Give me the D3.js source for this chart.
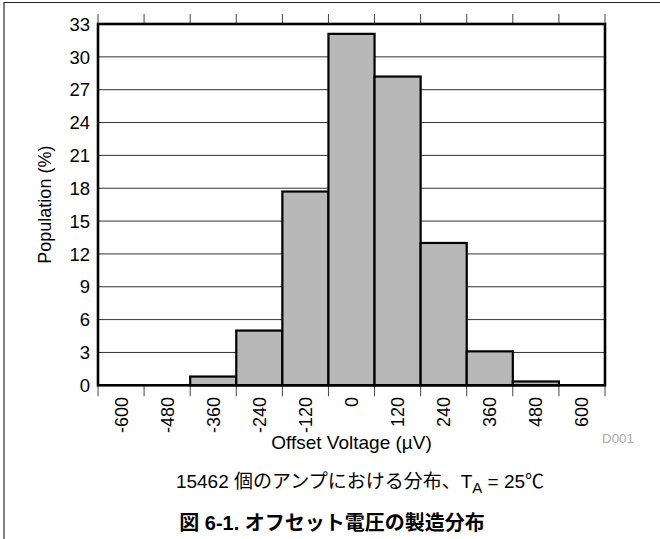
<!DOCTYPE html>
<html><head><meta charset="utf-8">
<script src="https://cdn.jsdelivr.net/npm/d3@7"></script>
<style>body{margin:0;background:#fff}svg{display:block}</style>
</head><body>
<svg id="c" width="660" height="539"></svg>
<script>
const categories = ["-600","-480","-360","-240","-120","0","120","240","360","480","600"];
const values = [0, 0.05, 0.8, 5, 17.7, 32.1, 28.2, 13, 3.1, 0.35, 0];
const yTicks = [0,3,6,9,12,15,18,21,24,27,30,33];
const xTitle = "Offset Voltage (µV)";
const yTitle = "Population (%)";
const caption1 = "15462 個のアンプにおける分布、T";
const caption2 = "図 6-1. オフセット電圧の製造分布";

const svg = d3.select("#c");
const L=98, R=605, T=24, B=385.3;
const x = d3.scaleBand().domain(categories).range([L,R]).padding(0);
const y = d3.scaleLinear().domain([0,33]).range([B,T]);
const font = "'Liberation Sans', Arial, sans-serif";

// outer frame lines
svg.append("line").attr("x1",4).attr("x2",4).attr("y1",2).attr("y2",539).attr("stroke","#555").attr("stroke-width",1.5);
svg.append("line").attr("x1",4).attr("x2",660).attr("y1",2.5).attr("y2",2.5).attr("stroke","#222").attr("stroke-width",1.2);

// gridlines
svg.append("g").selectAll("line").data(yTicks.filter(d=>d>0&&d<33)).join("line")
 .attr("x1",L).attr("x2",R).attr("y1",d=>y(d)).attr("y2",d=>y(d))
 .attr("stroke","#333").attr("stroke-width",1);

// bars
svg.append("g").selectAll("rect").data(categories.map((c,i)=>({c,v:values[i]})).filter(d=>d.v>0)).join("rect")
 .attr("x",d=>x(d.c)).attr("width",x.bandwidth())
 .attr("y",d=>y(d.v)).attr("height",d=>B-y(d.v))
 .attr("fill","#b8b8b8").attr("stroke",d=>d.v<0.1?"#999":"#000").attr("stroke-width",d=>d.v<0.1?1:2.2);

// tick marks at band boundaries
const bounds = categories.map(c=>x(c)).concat([R]);
svg.append("g").selectAll("line").data(bounds).join("line")
 .attr("x1",d=>d).attr("x2",d=>d).attr("y1",B).attr("y2",B+11).attr("stroke","#444").attr("stroke-width",1);
svg.append("g").selectAll("line").data(bounds).join("line")
 .attr("x1",d=>d).attr("x2",d=>d).attr("y1",T).attr("y2",T-10).attr("stroke","#444").attr("stroke-width",1);

// frame
svg.append("rect").attr("x",L).attr("y",T).attr("width",R-L).attr("height",B-T)
 .attr("fill","none").attr("stroke","#000").attr("stroke-width",2.6);

// y labels
svg.append("g").selectAll("text").data(yTicks).join("text")
 .attr("x",90).attr("y",d=>y(d)).attr("dy","0.36em").attr("text-anchor","end")
 .attr("font-family",font).attr("font-size",18.5).attr("fill","#000").text(d=>d);

// x labels
svg.append("g").selectAll("text").data(categories).join("text")
 .attr("transform",c=>`translate(${x(c)+x.bandwidth()/2},397) rotate(-90)`)
 .attr("dy","0.36em").attr("text-anchor","end")
 .attr("font-family",font).attr("font-size",18).attr("fill","#000").text(c=>c);

// titles
svg.append("text").attr("transform",`translate(51,${(T+B)/2}) rotate(-90)`).attr("text-anchor","middle")
 .attr("font-family",font).attr("font-size",18).text(yTitle);
svg.append("text").attr("x",(L+R)/2).attr("y",449).attr("text-anchor","middle")
 .attr("font-family",font).attr("font-size",19).text(xTitle);
svg.append("text").attr("x",602).attr("y",443).attr("font-family",font).attr("font-size",13.4).attr("fill","#aaa").text("D001");

// captions
const c1 = svg.append("text").attr("x",360).attr("y",488).attr("text-anchor","middle")
 .attr("font-family","'Liberation Sans','Noto Sans CJK JP',sans-serif").attr("font-size",19);
c1.append("tspan").text(caption1);
c1.append("tspan").attr("dy",5).attr("font-size",15).text("A");
c1.append("tspan").attr("dy",-5).text(" = 25℃");
svg.append("text").attr("x",332).attr("y",530).attr("text-anchor","middle")
 .attr("font-family","'Liberation Sans','Noto Sans CJK JP',sans-serif").attr("font-size",20).attr("font-weight","bold").text(caption2);
</script>
</body></html>
